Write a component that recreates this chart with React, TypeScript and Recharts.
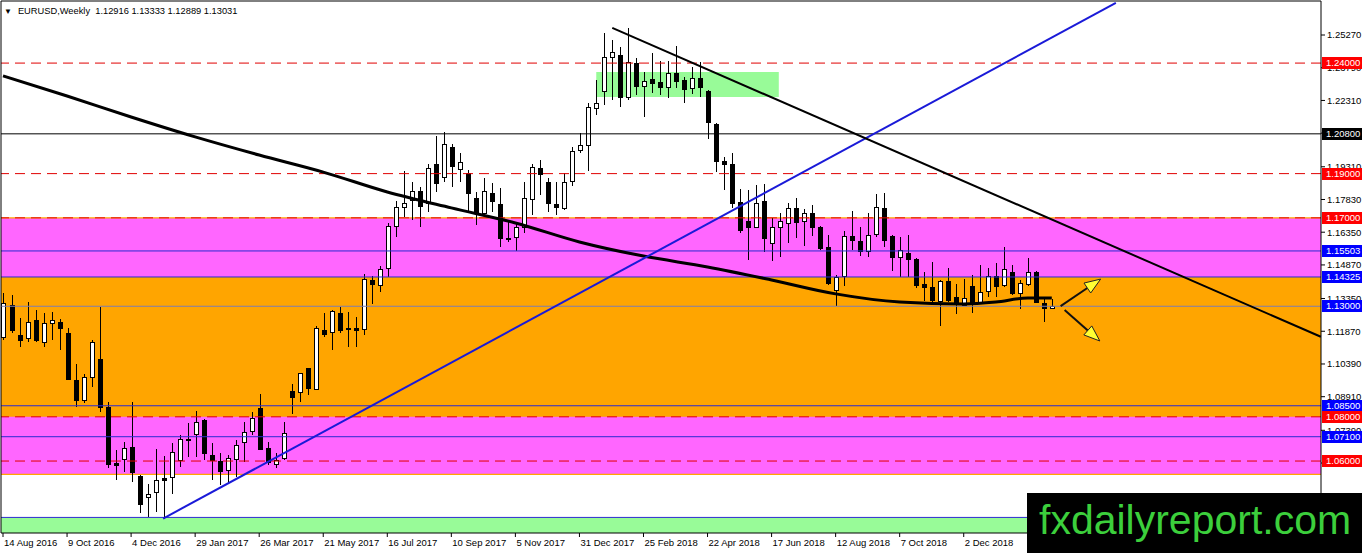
import { ComposedChart, Bar, Line, XAxis, YAxis, ReferenceLine, ReferenceArea } from 'recharts';

// EURUSD weekly, first bar = week of 14 Aug 2016
const weekLabels = [
  '14 Aug 2016', '9 Oct 2016', '4 Dec 2016', '29 Jan 2017', '26 Mar 2017', '21 May 2017',
  '16 Jul 2017', '10 Sep 2017', '5 Nov 2017', '31 Dec 2017', '25 Feb 2018', '22 Apr 2018',
  '17 Jun 2018', '12 Aug 2018', '7 Oct 2018', '2 Dec 2018',
];

const opens = [
  1.1161, 1.1306, 1.1170, 1.1157, 1.1238, 1.1139, 1.1224, 1.1229, 1.1179, 1.0967,
  1.0876, 1.0980, 1.1062, 1.0844, 1.0591, 1.0609, 1.0664, 1.0532, 1.0437, 1.0460,
  1.0523, 1.0528, 1.0605, 1.0700, 1.0722, 1.0786, 1.0627, 1.0600, 1.0559, 1.0609,
  1.0686, 1.0736, 1.0840, 1.0659, 1.0587, 1.0614, 1.0917, 1.0912, 1.1021, 1.0926,
  1.1193, 1.1184, 1.1270, 1.1202, 1.1202, 1.1197, 1.1419, 1.1396, 1.1473, 1.1663,
  1.1749, 1.1781, 1.1822, 1.1767, 1.1944, 1.1885, 1.2020, 1.1921, 1.1903, 1.1790,
  1.1722, 1.1812, 1.1763, 1.1609, 1.1613, 1.1659, 1.1785, 1.1926, 1.1862, 1.1763,
  1.1745, 1.1867, 1.2007, 1.2029, 1.2197, 1.2274, 1.2427, 1.2437, 1.2247, 1.2400,
  1.2296, 1.2328, 1.2314, 1.2292, 1.2355, 1.2323, 1.2287, 1.2332, 1.2274, 1.2124,
  1.1957, 1.1944, 1.1772, 1.1686, 1.1659, 1.1776, 1.1586, 1.1659, 1.1677, 1.1745,
  1.1686, 1.1722, 1.1659, 1.1568, 1.1374, 1.1437, 1.1618, 1.1595, 1.1550, 1.1627,
  1.1745, 1.1618, 1.1523, 1.1541, 1.1514, 1.1401, 1.1387, 1.1324, 1.1414, 1.1342,
  1.1306, 1.1392, 1.1315, 1.1369, 1.1437, 1.1396, 1.1455, 1.1360, 1.1401, 1.1455,
  1.1315, 1.12916,
];
const highs = [
  1.1360, 1.1351, 1.1247, 1.1319, 1.1283, 1.1270, 1.1274, 1.1243, 1.1202, 1.1039,
  1.0994, 1.1148, 1.1297, 1.0866, 1.0650, 1.0686, 1.0867, 1.0536, 1.0496, 1.0654,
  1.0623, 1.0682, 1.0718, 1.0772, 1.0826, 1.0790, 1.0682, 1.0636, 1.0627, 1.0695,
  1.0777, 1.0822, 1.0903, 1.0686, 1.0636, 1.0777, 1.0949, 1.0998, 1.1021, 1.1211,
  1.1270, 1.1283, 1.1295, 1.1274, 1.1252, 1.1446, 1.1437, 1.1482, 1.1677, 1.1776,
  1.1912, 1.1862, 1.1840, 1.1944, 1.2070, 1.2088, 1.2034, 1.1993, 1.1917, 1.1817,
  1.1880, 1.1858, 1.1835, 1.1690, 1.1677, 1.1862, 1.1944, 1.1962, 1.1880, 1.1862,
  1.1903, 1.2020, 1.2084, 1.2219, 1.2323, 1.2536, 1.2504, 1.2473, 1.2559, 1.2423,
  1.2360, 1.2446, 1.2409, 1.2409, 1.2477, 1.2337, 1.2382, 1.2405, 1.2280, 1.2130,
  1.1975, 1.1993, 1.1831, 1.1826, 1.1849, 1.1853, 1.1699, 1.1722, 1.1767, 1.1790,
  1.1740, 1.1758, 1.1665, 1.1623, 1.1441, 1.1641, 1.1731, 1.1659, 1.1722, 1.1808,
  1.1812, 1.1623, 1.1613, 1.1623, 1.1518, 1.1455, 1.1500, 1.1418, 1.1473, 1.1401,
  1.1423, 1.1441, 1.1487, 1.1473, 1.1496, 1.1568, 1.1487, 1.1419, 1.1518, 1.1460,
  1.1342, 1.13333,
];
const lows = [
  1.1148, 1.1179, 1.1116, 1.1139, 1.1139, 1.1116, 1.1148, 1.1102, 1.0967, 1.0844,
  1.0862, 1.0935, 1.0822, 1.0568, 1.0514, 1.0550, 1.0505, 1.0365, 1.0347, 1.0370,
  1.0340, 1.0451, 1.0573, 1.0618, 1.0618, 1.0605, 1.0514, 1.0492, 1.0501, 1.0528,
  1.0596, 1.0718, 1.0650, 1.0582, 1.0568, 1.0605, 1.0813, 1.0867, 1.0899, 1.0921,
  1.1161, 1.1102, 1.1180, 1.1116, 1.1116, 1.1170, 1.1310, 1.1365, 1.1432, 1.1613,
  1.1704, 1.1690, 1.1659, 1.1726, 1.1817, 1.1862, 1.1840, 1.1862, 1.1722, 1.1668,
  1.1704, 1.1726, 1.1568, 1.1591, 1.1550, 1.1632, 1.1713, 1.1803, 1.1726, 1.1713,
  1.1736, 1.1844, 1.1993, 1.1912, 1.2165, 1.2210, 1.2233, 1.2201, 1.2233, 1.2256,
  1.2156, 1.2265, 1.2256, 1.2242, 1.2287, 1.2219, 1.2260, 1.2247, 1.2057, 1.1907,
  1.1826, 1.1745, 1.1632, 1.1509, 1.1654, 1.1546, 1.1505, 1.1523, 1.1586, 1.1609,
  1.1573, 1.1618, 1.1555, 1.1396, 1.1301, 1.1392, 1.1555, 1.1527, 1.1523, 1.1613,
  1.1568, 1.1460, 1.1432, 1.1432, 1.1383, 1.1324, 1.1319, 1.1211, 1.1319, 1.1265,
  1.1300, 1.1270, 1.1310, 1.1342, 1.1342, 1.1387, 1.1351, 1.1288, 1.1392, 1.1315,
  1.1229, 1.12889,
];
const closes = [
  1.1315, 1.1193, 1.1148, 1.1229, 1.1148, 1.1224, 1.1238, 1.1202, 1.0971, 1.0876,
  1.0980, 1.1139, 1.0844, 1.0587, 1.0582, 1.0659, 1.0550, 1.0406, 1.0451, 1.0514,
  1.0514, 1.0641, 1.0700, 1.0698, 1.0777, 1.0636, 1.0605, 1.0555, 1.0614, 1.0673,
  1.0731, 1.0795, 1.0654, 1.0596, 1.0605, 1.0727, 1.0890, 1.0998, 1.0930, 1.1202,
  1.1175, 1.1279, 1.1193, 1.1197, 1.1193, 1.1423, 1.1401, 1.1469, 1.1663, 1.1749,
  1.1767, 1.1822, 1.1754, 1.1926, 1.1858, 1.2034, 1.1935, 1.1953, 1.1812, 1.1726,
  1.1822, 1.1776, 1.1609, 1.1604, 1.1659, 1.1790, 1.1930, 1.1898, 1.1767, 1.1749,
  1.1862, 1.2002, 1.2029, 1.2201, 1.2219, 1.2427, 1.2450, 1.2247, 1.2405, 1.2296,
  1.2319, 1.2310, 1.2292, 1.2355, 1.2319, 1.2283, 1.2332, 1.2292, 1.2133, 1.1957,
  1.1944, 1.1767, 1.1645, 1.1659, 1.1767, 1.1609, 1.1659, 1.1686, 1.1745, 1.1681,
  1.1722, 1.1659, 1.1564, 1.1405, 1.1432, 1.1618, 1.1600, 1.1550, 1.1623, 1.1749,
  1.1600, 1.1523, 1.1555, 1.1514, 1.1396, 1.1387, 1.1328, 1.1414, 1.1328, 1.1315,
  1.1338, 1.1310, 1.1365, 1.1437, 1.1392, 1.1469, 1.1360, 1.1405, 1.1455, 1.1319,
  1.1292, 1.13031,
];

// moving average read at a few bars
const maBars = [0, 8, 16, 24, 32, 40, 48, 56, 64, 72, 80, 88, 96, 104, 112, 120, 124, 128, 131];
const maValues = [
  1.2342, 1.2251, 1.2156, 1.2066, 1.1984, 1.1907, 1.1817, 1.1745, 1.1677, 1.1591,
  1.1527, 1.1478, 1.1419, 1.1356, 1.1319, 1.1310, 1.1319, 1.1337, 1.1337,
];

const priceTicks = [
  1.2527, 1.2379, 1.2231, 1.2083, 1.1931, 1.1783, 1.1635, 1.1487, 1.1335, 1.1187,
  1.1039, 1.0891, 1.0739, 1.0591, 1.0443,
];

// horizontal levels: price, colour, dashed, tag colour
const levels = [
  { p: 1.2400, color: '#e00000', dash: true, tag: '#ff0000', text: '1.24000' },
  { p: 1.2080, color: '#000000', dash: false, tag: '#000000', text: '1.20800' },
  { p: 1.1900, color: '#e00000', dash: true, tag: '#ff0000', text: '1.19000' },
  { p: 1.1700, color: '#e00000', dash: true, tag: '#ff0000', text: '1.17000' },
  { p: 1.15503, color: '#2b2bd0', dash: false, tag: '#0000ff', text: '1.15503' },
  { p: 1.14325, color: '#2b2bd0', dash: false, tag: '#0000ff', text: '1.14325' },
  { p: 1.1300, color: '#7f7fae', dash: false, tag: '#0000ff', text: '1.13000' },
  { p: 1.0850, color: '#2b2bd0', dash: false, tag: '#0000ff', text: '1.08500' },
  { p: 1.0800, color: '#e00000', dash: true, tag: '#ff0000', text: '1.08000' },
  { p: 1.0710, color: '#2b2bd0', dash: false, tag: '#0000ff', text: '1.07100' },
  { p: 1.0600, color: '#e00000', dash: true, tag: '#ff0000', text: '1.06000' },
];

const Y_MIN = 1.02745;
const Y_MAX = 1.26808;
const X_MIN = -0.25;
const X_MAX = 164.625;
const FONT = '"Liberation Sans", Arial, sans-serif';
const MARGIN = { top: 1, right: 0, left: 1, bottom: 0 };

const rows = opens.map((o, i) => {
  const m = maBars.indexOf(i);
  return {
    i,
    o,
    h: highs[i],
    l: lows[i],
    c: closes[i],
    range: [lows[i], highs[i]],
    ma: m >= 0 ? maValues[m] : null,
  };
});

const Candle = (props: any) => {
  const { x, y, width, height, payload } = props;
  if (!payload) return null;
  const { o, h, l, c } = payload;
  const top = Math.min(y, y + height);
  const span = Math.abs(height);
  const k = span / (h - l || 1);
  const py = (v: number) => top + (h - v) * k;
  const cx = Math.round(x + width / 2);
  const yo = py(o);
  const yc = py(c);
  const bTop = Math.round(Math.min(yo, yc));
  const bBot = Math.round(Math.max(yo, yc));
  const up = c >= o;
  return (
    <g>
      <line x1={cx + 0.5} x2={cx + 0.5} y1={Math.round(top)} y2={Math.round(top + span)} stroke="#000" strokeWidth={1} />
      <rect
        x={cx - 1.5}
        y={bTop + 0.5}
        width={4}
        height={Math.max(bBot - bTop, 1)}
        fill={up ? '#ffffff' : '#000000'}
        stroke="#000"
        strokeWidth={1}
      />
    </g>
  );
};

const PriceTag = ({ viewBox, text, bg }: any) => {
  if (!viewBox) return null;
  const yy = Math.round(viewBox.y);
  const xx = viewBox.x + viewBox.width;
  return (
    <g>
      <rect x={xx + 1} y={yy - 6} width={42} height={12} fill={bg} />
      <text x={xx + 5} y={yy} dy="0.36em" fill="#fff" fontSize={9.5} fontFamily={FONT}>
        {text}
      </text>
    </g>
  );
};

const Arrow = (props: any) => {
  const { x1, y1, x2, y2 } = props;
  if (x1 == null) return null;
  const dx = x2 - x1;
  const dy = y2 - y1;
  const len = Math.sqrt(dx * dx + dy * dy) || 1;
  const ux = dx / len;
  const uy = dy / len;
  const hl = 16;
  const hw = 6;
  const bx = x2 - ux * hl;
  const by = y2 - uy * hl;
  const pts = `${x2},${y2} ${bx - uy * hw},${by + ux * hw} ${bx + uy * hw},${by - ux * hw}`;
  return (
    <g>
      <line x1={x1} y1={y1} x2={bx} y2={by} stroke="#111" strokeWidth={2} />
      <polygon points={pts} fill="#ffff33" stroke="#222" strokeWidth={1} />
    </g>
  );
};

const DateTick = ({ x, y, payload }: any) => {
  const label = weekLabels[Math.round(payload.value / 8)];
  return (
    <text x={x + 1} y={y} dy="0.71em" fontSize={9.5} fontFamily={FONT} fill="#000" textAnchor="start">
      {label}
    </text>
  );
};

export default function App() {
  return (
    <div style={{ position: 'absolute', left: 0, top: 0, width: 1362, height: 553, background: '#fff' }}>
      <ComposedChart width={1362} height={553} data={rows} margin={MARGIN}>
        <XAxis
          dataKey="i"
          type="number"
          domain={[X_MIN, X_MAX]}
          allowDataOverflow
          ticks={weekLabels.map((_, n) => n * 8)}
          interval={0}
          tick={<DateTick />}
          tickSize={4}
          tickMargin={2}
          height={20}
          axisLine={{ stroke: '#000' }}
          tickLine={{ stroke: '#000' }}
        />
        <YAxis
          orientation="right"
          type="number"
          domain={[Y_MIN, Y_MAX]}
          allowDataOverflow
          ticks={priceTicks}
          interval={0}
          tickFormatter={(v: number) => v.toFixed(5)}
          tick={{ fill: '#000', fontSize: 9.5, fontFamily: FONT }}
          tickSize={4}
          tickMargin={2}
          width={41}
          axisLine={{ stroke: '#000' }}
          tickLine={{ stroke: '#000' }}
        />

        {/* zones */}
        <ReferenceArea y1={1.0537} y2={1.1703} fill="#ffa500" fillOpacity={1} stroke="none" ifOverflow="hidden" />
        <ReferenceArea y1={1.14325} y2={1.1697} fill="#ff66ff" fillOpacity={1} stroke="none" ifOverflow="hidden" />
        <ReferenceArea y1={1.0542} y2={1.0800} fill="#ff66ff" fillOpacity={1} stroke="none" ifOverflow="hidden" />
        <ReferenceArea y1={Y_MIN} y2={1.0345} fill="#98fb98" fillOpacity={1} stroke="none" ifOverflow="hidden" />
        <ReferenceArea x1={74.1} x2={96.9} y1={1.2247} y2={1.2360} fill="#98fb98" fillOpacity={1} stroke="none" />
        <ReferenceLine y={1.0345} stroke="#2b2bd0" />

        {levels.map((lv) => (
          <ReferenceLine
            key={lv.text}
            y={lv.p}
            stroke={lv.color}
            strokeWidth={1}
            strokeDasharray={lv.dash ? '10 6' : undefined}
          />
        ))}

        {/* frame */}
        <ReferenceLine y={Y_MAX} stroke="#000" />
        <ReferenceLine x={X_MIN} stroke="#000" />

        <Bar dataKey="range" barSize={5} shape={<Candle />} isAnimationActive={false} />
        <Line
          dataKey="ma"
          type="monotone"
          stroke="#000"
          strokeWidth={3}
          dot={false}
          connectNulls
          isAnimationActive={false}
        />

        {/* trend lines */}
        <ReferenceLine segment={[{ x: 20, y: 1.034 }, { x: 139, y: 1.2672 }]} stroke="#1a1ad8" strokeWidth={2} />
        <ReferenceLine segment={[{ x: 76.1, y: 1.2559 }, { x: 164.6, y: 1.1162 }]} stroke="#000" strokeWidth={2} />

        {/* arrows */}
        <ReferenceLine segment={[{ x: 132.1, y: 1.1301 }, { x: 137.1, y: 1.1423 }]} shape={(p: any) => <Arrow {...p} />} />
        <ReferenceLine segment={[{ x: 132.6, y: 1.1283 }, { x: 137.0, y: 1.1143 }]} shape={(p: any) => <Arrow {...p} />} />
      </ComposedChart>

      {/* price tags on top of the axis, same scales */}
      <div style={{ position: 'absolute', left: 0, top: 0, pointerEvents: 'none' }}>
        <ComposedChart width={1362} height={553} data={rows} margin={MARGIN}>
          <XAxis
            dataKey="i"
            type="number"
            domain={[X_MIN, X_MAX]}
            allowDataOverflow
            height={20}
            tick={false}
            axisLine={false}
            tickLine={false}
          />
          <YAxis
            orientation="right"
            type="number"
            domain={[Y_MIN, Y_MAX]}
            allowDataOverflow
            width={41}
            tick={false}
            axisLine={false}
            tickLine={false}
          />
          {levels.map((lv) => (
            <ReferenceLine
              key={lv.text}
              y={lv.p}
              stroke="none"
              label={(p: any) => <PriceTag viewBox={p.viewBox} text={lv.text} bg={lv.tag} />}
            />
          ))}
        </ComposedChart>
      </div>

      <div
        style={{
          position: 'absolute',
          left: 4,
          top: 5,
          fontFamily: FONT,
          fontSize: 9.3,
          lineHeight: '12px',
          color: '#000',
          whiteSpace: 'pre',
        }}
      >
        <span style={{ fontSize: 8, marginRight: 6 }}>▼</span>
        {'EURUSD,Weekly  1.12916 1.13333 1.12889 1.13031'}
      </div>

      <div
        style={{
          position: 'absolute',
          left: 1027,
          top: 493,
          width: 335,
          height: 60,
          background: '#000',
          overflow: 'hidden',
        }}
      >
        <div
          style={{
            position: 'absolute',
            left: 12,
            top: 2,
            fontFamily: FONT,
            fontSize: 41,
            lineHeight: '50px',
            color: '#3ccf3c',
            whiteSpace: 'nowrap',
          }}
        >
          fxdailyreport.com
        </div>
      </div>
    </div>
  );
}
